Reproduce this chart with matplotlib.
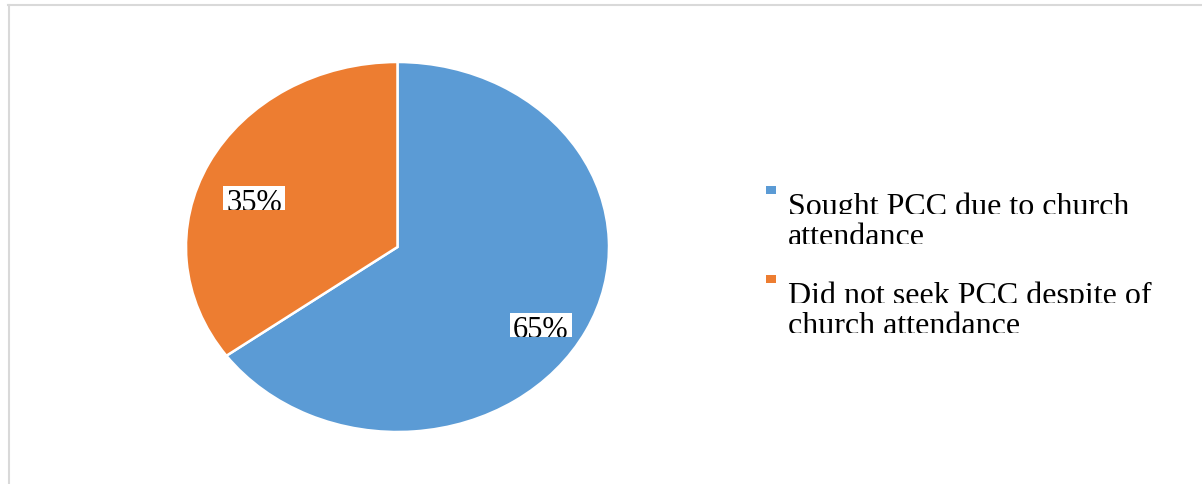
import matplotlib.pyplot as plt
from matplotlib.lines import Line2D
from matplotlib.patches import Rectangle
from matplotlib.transforms import Bbox, ScaledTranslation

plt.rcParams['font.family'] = ['Liberation Serif', 'DejaVu Serif']

labels = ['Sought PCC due to church attendance',
          'Did not seek PCC despite of church attendance']
legend_lines = [['Sought PCC due to church', 'attendance'],
                ['Did not seek PCC despite of', 'church attendance']]
shares = [65, 35]
colors = ['#5B9BD5', '#ED7D31']

W, H = 1202, 484
fig = plt.figure(figsize=(W / 100, H / 100), dpi=100)
fig.patch.set_facecolor('white')

# light grey frame, top and left edges only
frame_kw = dict(color='#d9d9d9', lw=1.5, transform=fig.transFigure)
fig.add_artist(Line2D([8.5 / W, 8.5 / W], [1 - 5 / H, 0], **frame_kw))
fig.add_artist(Line2D([8 / W, 1], [1 - 5 / H, 1 - 5 / H], **frame_kw))

ax = fig.add_axes([186 / W, 52 / H, 423 / W, 370 / H])
wedges, texts, autotexts = ax.pie(
    shares, colors=colors, startangle=90, counterclock=False,
    autopct='%1.0f%%', pctdistance=0.76,
    wedgeprops=dict(edgecolor='white', linewidth=1.8),
    textprops=dict(fontsize=22, color='black'))
ax.set_aspect('auto')
ax.set_xlim(-1, 1)
ax.set_ylim(-1, 1)
ax.axis('off')

nudge = ScaledTranslation(0, -4 / 72, fig.dpi_scale_trans)
for t in autotexts:
    t.set_va('top')
    t.set_transform(t.get_transform() + nudge)
    t.set_bbox(dict(facecolor='white', edgecolor='none', boxstyle='square,pad=0.1'))

# legend drawn by hand: small square markers and two-line labels
leg_texts = []
marker_y = [186, 275]
for i, lines in enumerate(legend_lines):
    y0 = marker_y[i]
    fig.add_artist(Rectangle((766 / W, 1 - (y0 + 8) / H), 10 / W, 8 / H,
                             facecolor=colors[i], edgecolor='none',
                             transform=fig.transFigure))
    for j, line in enumerate(lines):
        t = fig.text(788 / W, 1 - (y0 + 29 + 30 * j) / H, line, fontsize=23,
                     ha='left', va='baseline')
        leg_texts.append(t)

fig.canvas.draw()
renderer = fig.canvas.get_renderer()


def clip_below_baseline(t, lift=1):
    # cut the glyphs (and their box) off at the baseline
    bb = t.get_window_extent(renderer)
    _, _, descent = renderer.get_text_width_height_descent(
        'lp', t.get_fontproperties(), ismath=False)
    base = bb.y0 + descent
    t.set_clip_box(Bbox([[bb.x0 - 20, base + lift], [bb.x1 + 20, bb.y1 + 20]]))
    t.set_clip_on(True)


for t in autotexts + leg_texts:
    clip_below_baseline(t)

fig.savefig('out.png', dpi=100, facecolor='white')
